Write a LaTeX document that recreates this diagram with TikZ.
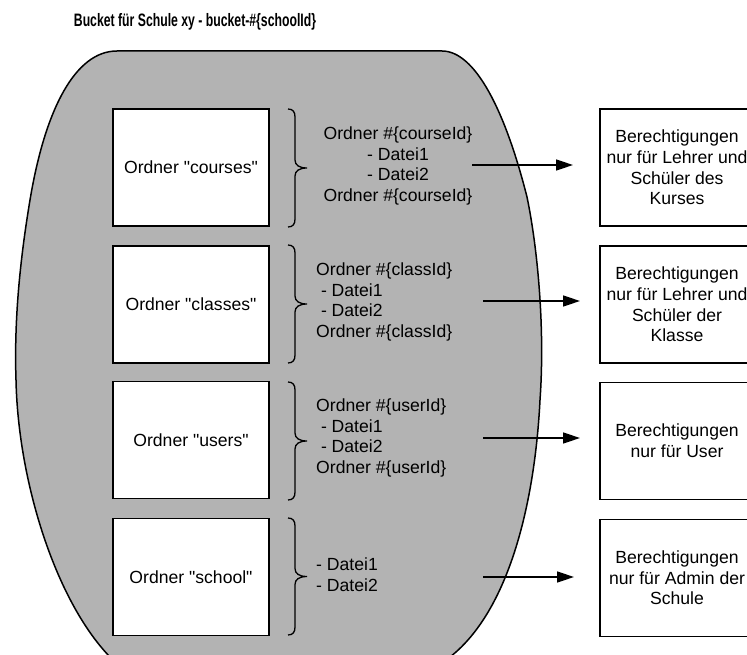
\documentclass[tikz,border=0pt]{standalone}
\usepackage{fontspec}
\setmainfont{Liberation Sans}
\usepackage{graphicx}
\usetikzlibrary{arrows.meta}
\definecolor{bucketgray}{HTML}{B3B3B3}
\begin{document}
\begin{tikzpicture}[x=1pt,y=-1pt,
  txt/.style={font=\fontsize{17.6}{20.6}\selectfont, inner sep=0pt},
  folder/.style={draw, line width=1.5pt, fill=white, minimum width=156pt, minimum height=117pt, inner sep=0pt, txt},
  perm/.style={folder, align=center, minimum width=154pt},
  arr/.style={line width=1.5pt, -{Triangle[length=17pt,width=11pt]}},
  bracepath/.style={line width=1.3pt}
]
\useasboundingbox (0,0) rectangle (747,655);
\clip (0,0) rectangle (747,655);

% title
\node[inner sep=0pt, anchor=base] (title) at (195,27)
  {\scalebox{0.68}[1]{\fontsize{18}{20}\selectfont\bfseries Bucket für Schule xy - bucket-\#\{schoolId\}}};

% bucket
\draw[line width=1.5pt, fill=bucketgray] (117,51) -- (442,51)
  .. controls (475,51) and (505,110) .. (527,197)
  .. controls (538,250) and (545,330) .. (540,400)
  .. controls (535,500) and (510,610) .. (450,657)
  -- (110,657)
  .. controls (55,600) and (18,480) .. (16,380)
  .. controls (14,320) and (20,260) .. (30,200)
  .. controls (45,110) and (75,51) .. cycle;

% braces
\foreach \yt/\yb in {109/227, 245/363, 382/500, 518/635} {
  \pgfmathsetmacro\ym{(\yt+\yb)/2}
  \draw[bracepath] (288,\yt) .. controls (293,\yt) and (295,{\yt+3}) .. (295,{\yt+8})
    -- (295,{\ym-8}) .. controls (295,{\ym-3}) and (299,\ym) .. (307,\ym)
    .. controls (299,\ym) and (295,{\ym+3}) .. (295,{\ym+8})
    -- (295,{\yb-8}) .. controls (295,{\yb-3}) and (293,\yb) .. (288,\yb);
}

% folder boxes
\node[folder] (f1) at (191,167.5) {Ordner \textquotedbl courses\textquotedbl};
\node[folder] (f2) at (191,304.5) {Ordner \textquotedbl classes\textquotedbl};
\node[folder] (f3) at (191,440) {Ordner \textquotedbl users\textquotedbl};
\node[folder] (f4) at (191,577) {Ordner \textquotedbl school\textquotedbl};

% contents
\node[txt, align=center] (t1) at (398,166)
  {Ordner \#\{courseId\}\\- Datei1\\- Datei2\\Ordner \#\{courseId\}};
\node[txt, align=left, anchor=west] (t2) at (316,302)
  {Ordner \#\{classId\}\\\hspace*{4.8pt}- Datei1\\\hspace*{4.8pt}- Datei2\\Ordner \#\{classId\}};
\node[txt, align=left, anchor=west] (t3) at (316,438)
  {Ordner \#\{userId\}\\\hspace*{4.8pt}- Datei1\\\hspace*{4.8pt}- Datei2\\Ordner \#\{userId\}};
\node[txt, align=left, anchor=west] (t4) at (316,575)
  {- Datei1\\- Datei2};

% permission boxes
\node[perm] (p1) at (677,167.5) {Berechtigungen\\nur für Lehrer und\\Schüler des\\Kurses};
\node[perm] (p2) at (677,304.5) {Berechtigungen\\nur für Lehrer und\\Schüler der\\Klasse};
\node[perm] (p3) at (677,441) {Berechtigungen\\nur für User};
\node[perm] (p4) at (677,578) {Berechtigungen\\nur für Admin der\\Schule};

% arrows
\coordinate (s1) at (472,165); \coordinate (e1) at (573,165);
\coordinate (s2) at (483,301); \coordinate (e2) at (580,301);
\coordinate (s3) at (483,438); \coordinate (e3) at (580,438);
\coordinate (s4) at (483,577); \coordinate (e4) at (574,577);
\draw[arr] (s1) -- (e1);
\draw[arr] (s2) -- (e2);
\draw[arr] (s3) -- (e3);
\draw[arr] (s4) -- (e4);
\end{tikzpicture}
\end{document}
